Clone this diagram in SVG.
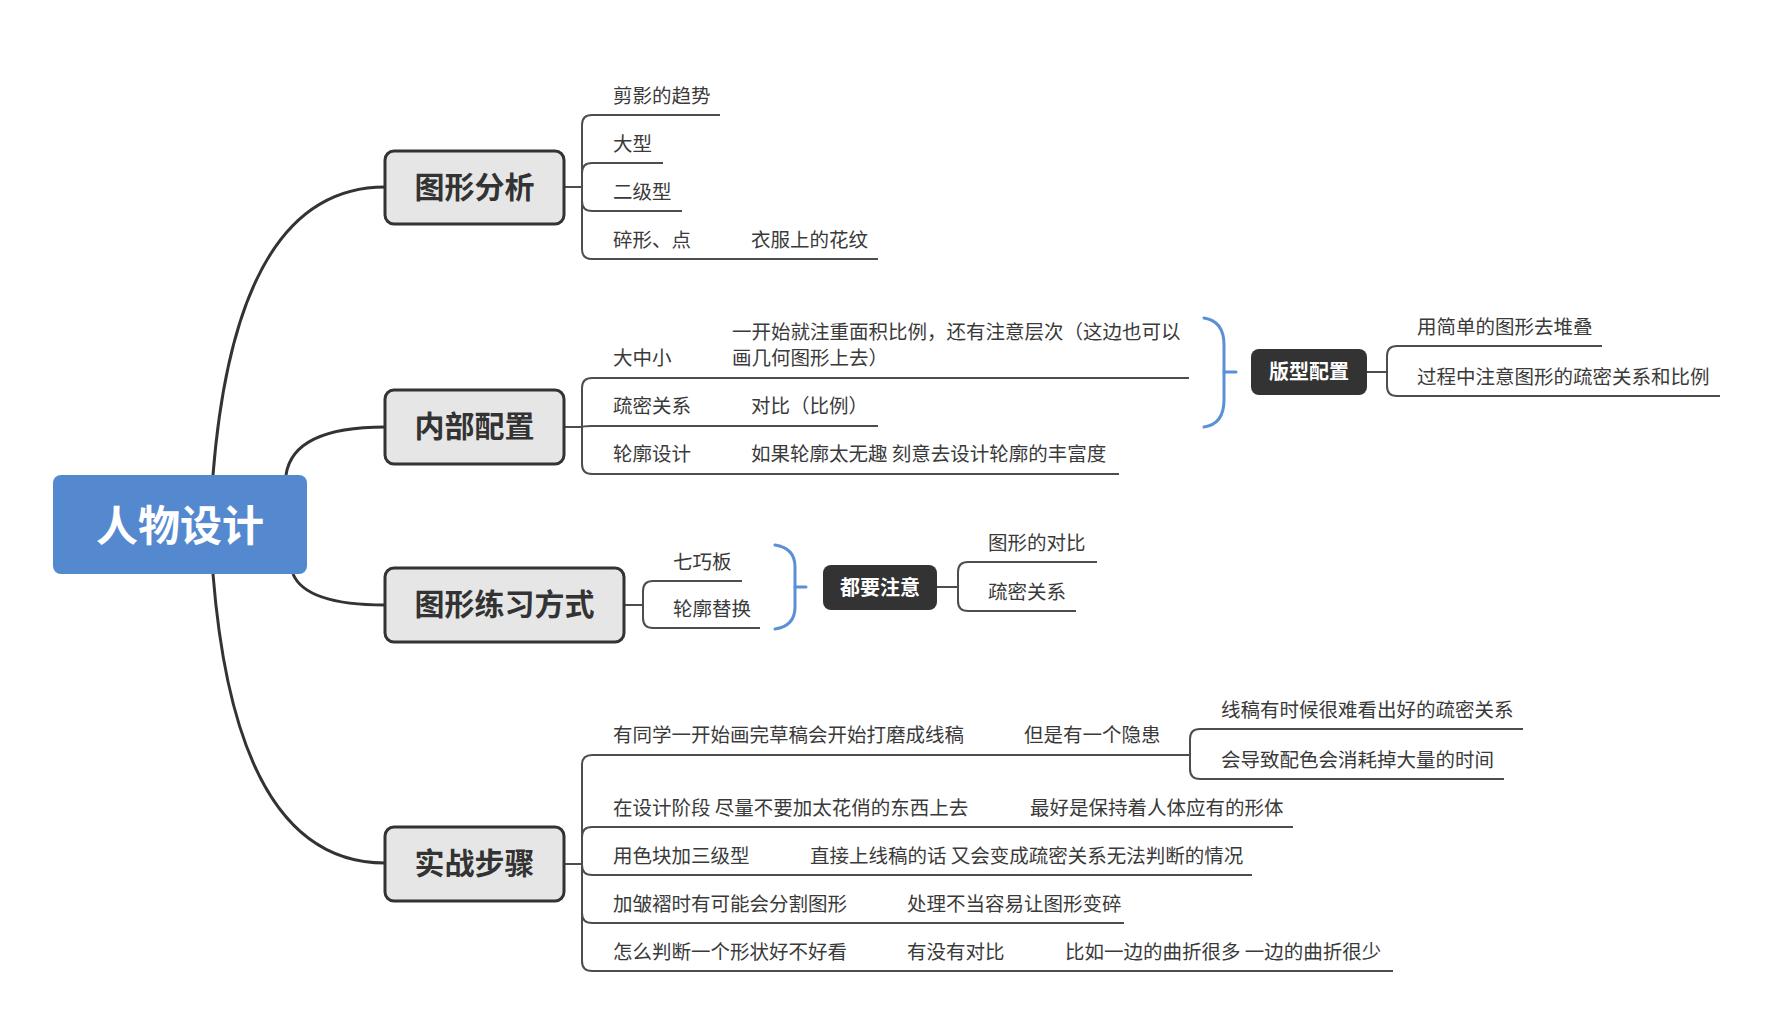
<svg xmlns="http://www.w3.org/2000/svg" width="1779" height="1036" viewBox="0 0 1779 1036">
<style>
text{font-family:"Noto Sans CJK SC","Noto Sans",sans-serif;}
.t{font-size:19.5px;fill:#3a3a3a;dominant-baseline:central;}
.ul{fill:none;stroke:#4d4d4d;stroke-width:2;}
.cn{fill:none;stroke:#4d4d4d;stroke-width:2;}
.main{fill:none;stroke:#333;stroke-width:3;}
.brace{fill:none;stroke:#5b8fd6;stroke-width:3;stroke-linecap:round;}
.box{fill:#e6e6e6;stroke:#333;stroke-width:3;}
.bt{font-size:30px;font-weight:bold;fill:#333;text-anchor:middle;dominant-baseline:central;}
.dark{fill:#333;}
.dt{font-size:20px;font-weight:bold;fill:#fff;text-anchor:middle;dominant-baseline:central;}
</style>
<rect width="1779" height="1036" fill="#fff"/>
<g id="connectors">
<path class="main" d="M213,475 Q236,187 385,187"/>
<path class="main" d="M286,475 Q293,427 385,427"/>
<path class="main" d="M293,574 Q306,605 385,605"/>
<path class="main" d="M213,574 Q236,863 385,863"/>
<path class="cn" d="M564,187 H582 V125 Q582,115 592,115"/>
<path class="cn" d="M582,187 V173 Q582,163 592,163"/>
<path class="cn" d="M582,187 V201 Q582,211 592,211"/>
<path class="cn" d="M582,187 V249 Q582,259 592,259"/>
<path class="cn" d="M703,259 H741"/>
<path class="cn" d="M564,427 H582 V388 Q582,378 592,378"/>
<path class="cn" d="M582,427 Q582,426 592,426"/>
<path class="cn" d="M582,427 V464 Q582,474 592,474"/>
<path class="cn" d="M690,378 H722"/>
<path class="cn" d="M700,426 H741"/>
<path class="cn" d="M700,474 H741"/>
<path class="brace" d="M1204,318 Q1224,321 1224,345 V400 Q1224,424 1204,427"/>
<path class="brace" d="M1224,372 H1236"/>
<path class="cn" d="M1367,372 H1387 V356 Q1387,346 1397,346"/>
<path class="cn" d="M1387,372 V386 Q1387,396 1397,396"/>
<path class="cn" d="M624,605 H643 V591 Q643,581 653,581"/>
<path class="cn" d="M643,605 V618 Q643,628 653,628"/>
<path class="brace" d="M775,545 Q795,548 795,567 V607 Q795,626 775,629"/>
<path class="brace" d="M795,587 H806"/>
<path class="cn" d="M937,587 H958 V572 Q958,562 968,562"/>
<path class="cn" d="M958,587 V601 Q958,611 968,611"/>
<path class="cn" d="M564,864 H582 V765 Q582,755 592,755"/>
<path class="cn" d="M582,864 V837 Q582,827 592,827"/>
<path class="cn" d="M582,864 V865 Q582,875 592,875"/>
<path class="cn" d="M582,864 V913 Q582,923 592,923"/>
<path class="cn" d="M582,864 V961 Q582,971 592,971"/>
<path class="cn" d="M990,755 H1014"/>
<path class="cn" d="M1170,755 H1190 V739 Q1190,729 1200,729"/>
<path class="cn" d="M1190,755 V769 Q1190,779 1200,779"/>
<path class="cn" d="M990,827 H1020"/>
<path class="cn" d="M780,875 H800"/>
<path class="cn" d="M880,923 H897"/>
<path class="cn" d="M880,971 H897"/>
<path class="cn" d="M1040,971 H1055"/>
</g>
<g id="root">
<rect x="53" y="475" width="254" height="99" rx="8" fill="#5589cf"/>
<text x="180" y="522" font-size="42" font-weight="bold" fill="#fff" text-anchor="middle" dominant-baseline="central">人物设计</text>
</g>
<g id="n1">
<rect class="box" x="385" y="151" width="179" height="73" rx="9"/>
<text class="bt" x="474.5" y="184.5">图形分析</text>
</g>
<g id="n1a"><text class="t" x="613" y="94">剪影的趋势</text><path class="ul" d="M592,115 H720"/></g>
<g id="n1b"><text class="t" x="613" y="142">大型</text><path class="ul" d="M592,163 H663"/></g>
<g id="n1c"><text class="t" x="613" y="190">二级型</text><path class="ul" d="M592,211 H682"/></g>
<g id="n1d"><text class="t" x="613" y="238">碎形、点</text><path class="ul" d="M592,259 H703"/></g>
<g id="n1d1"><text class="t" x="751" y="238">衣服上的花纹</text><path class="ul" d="M741,259 H878"/></g>
<g id="n2">
<rect class="box" x="385" y="390" width="179" height="74" rx="9"/>
<text class="bt" x="474.5" y="424">内部配置</text>
</g>
<g id="n2a"><text class="t" x="613" y="356">大中小</text><path class="ul" d="M592,378 H690"/></g>
<g id="n2a1"><text class="t" x="732" y="330">一开始就注重面积比例，还有注意层次（这边也可以</text><text class="t" x="732" y="356">画几何图形上去）</text><path class="ul" d="M722,378 H1189"/></g>
<g id="n2b"><text class="t" x="613" y="404">疏密关系</text><path class="ul" d="M592,426 H700"/></g>
<g id="n2b1"><text class="t" x="751" y="404">对比（比例）</text><path class="ul" d="M741,426 H878"/></g>
<g id="n2c"><text class="t" x="613" y="452">轮廓设计</text><path class="ul" d="M592,474 H700"/></g>
<g id="n2c1"><text class="t" x="751" y="452">如果轮廓太无趣 刻意去设计轮廓的丰富度</text><path class="ul" d="M741,474 H1119"/></g>
<g id="s1">
<rect class="dark" x="1251" y="349" width="116" height="46" rx="8"/>
<text class="dt" x="1309" y="370.5">版型配置</text>
</g>
<g id="s1a"><text class="t" x="1417" y="325">用简单的图形去堆叠</text><path class="ul" d="M1397,346 H1602"/></g>
<g id="s1b"><text class="t" x="1417" y="375">过程中注意图形的疏密关系和比例</text><path class="ul" d="M1397,396 H1720"/></g>
<g id="n3">
<rect class="box" x="385" y="568" width="239" height="74" rx="9"/>
<text class="bt" x="504.5" y="602">图形练习方式</text>
</g>
<g id="n3a"><text class="t" x="673" y="560">七巧板</text><path class="ul" d="M653,581 H742"/></g>
<g id="n3b"><text class="t" x="673" y="607">轮廓替换</text><path class="ul" d="M653,628 H760"/></g>
<g id="s2">
<rect class="dark" x="823" y="565" width="114" height="45" rx="8"/>
<text class="dt" x="880" y="586">都要注意</text>
</g>
<g id="s2a"><text class="t" x="988" y="541">图形的对比</text><path class="ul" d="M968,562 H1097"/></g>
<g id="s2b"><text class="t" x="988" y="590">疏密关系</text><path class="ul" d="M968,611 H1076"/></g>
<g id="n4">
<rect class="box" x="385" y="827" width="179" height="74" rx="9"/>
<text class="bt" x="474.5" y="861">实战步骤</text>
</g>
<g id="n4a"><text class="t" x="613" y="733">有同学一开始画完草稿会开始打磨成线稿</text><path class="ul" d="M592,755 H990"/></g>
<g id="n4a1"><text class="t" x="1024" y="733">但是有一个隐患</text><path class="ul" d="M1014,755 H1170"/></g>
<g id="n4a1a"><text class="t" x="1221" y="708">线稿有时候很难看出好的疏密关系</text><path class="ul" d="M1200,729 H1523"/></g>
<g id="n4a1b"><text class="t" x="1221" y="758">会导致配色会消耗掉大量的时间</text><path class="ul" d="M1200,779 H1504"/></g>
<g id="n4b"><text class="t" x="613" y="806">在设计阶段 尽量不要加太花俏的东西上去</text><path class="ul" d="M592,827 H990"/></g>
<g id="n4b1"><text class="t" x="1030" y="806">最好是保持着人体应有的形体</text><path class="ul" d="M1020,827 H1293"/></g>
<g id="n4c"><text class="t" x="613" y="854">用色块加三级型</text><path class="ul" d="M592,875 H780"/></g>
<g id="n4c1"><text class="t" x="810" y="854">直接上线稿的话 又会变成疏密关系无法判断的情况</text><path class="ul" d="M800,875 H1252"/></g>
<g id="n4d"><text class="t" x="613" y="902">加皱褶时有可能会分割图形</text><path class="ul" d="M592,923 H880"/></g>
<g id="n4d1"><text class="t" x="907" y="902">处理不当容易让图形变碎</text><path class="ul" d="M897,923 H1124"/></g>
<g id="n4e"><text class="t" x="613" y="950">怎么判断一个形状好不好看</text><path class="ul" d="M592,971 H880"/></g>
<g id="n4e1"><text class="t" x="907" y="950">有没有对比</text><path class="ul" d="M897,971 H1040"/></g>
<g id="n4e2"><text class="t" x="1065" y="950">比如一边的曲折很多 一边的曲折很少</text><path class="ul" d="M1055,971 H1393"/></g>
</svg>
